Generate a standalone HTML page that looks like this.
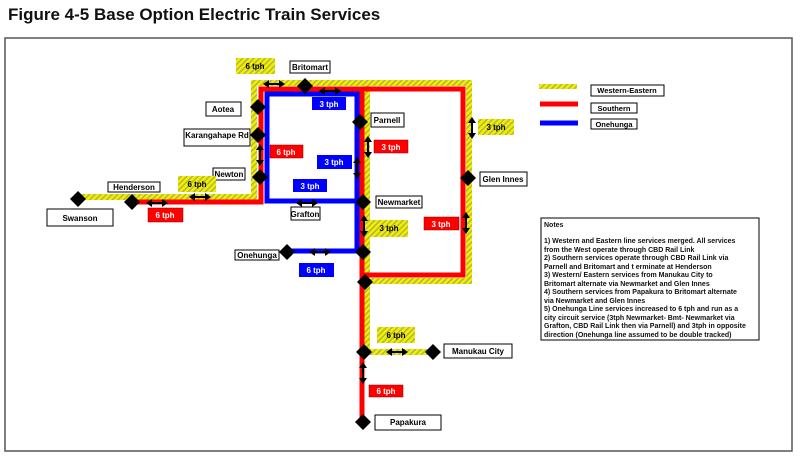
<!DOCTYPE html>
<html><head><meta charset="utf-8"><style>
body{margin:0;background:#fff;width:800px;height:458px;overflow:hidden}
svg text{font-family:"Liberation Sans",Arial,sans-serif}
</style></head><body>
<svg width="800" height="458" viewBox="0 0 800 458" xmlns="http://www.w3.org/2000/svg">
<defs>
<pattern id="h" width="4" height="4" patternUnits="userSpaceOnUse" patternTransform="rotate(45)">
<rect width="4" height="4" fill="#f0f000"/><rect width="1.5" height="4" fill="#b4b440"/>
</pattern>
<g id="dm"><polygon points="0,-8 8,0 0,8 -8,0" fill="#000"/></g>
<g id="ah"><line x1="-8" y1="0" x2="8" y2="0" stroke="#000" stroke-width="2"/><polygon points="-11,0 -5,-4 -5,4" fill="#000"/><polygon points="11,0 5,-4 5,4" fill="#000"/></g>
<g id="av"><line x1="0" y1="-8" x2="0" y2="8" stroke="#000" stroke-width="2"/><polygon points="0,-11 -4,-5 4,-5" fill="#000"/><polygon points="0,11 -4,5 4,5" fill="#000"/></g>
</defs>
<text x="8" y="20" font-size="17" font-weight="bold" fill="#111">Figure 4-5 Base Option Electric Train Services</text>
<rect x="5" y="38" width="787" height="413" fill="none" stroke="#555" stroke-width="1.5"/>

<g fill="none" stroke="url(#h)" stroke-width="6">
<polyline points="78,197 254,197 254,83 469,83 469,281 367,281"/>
<polyline points="367,83 367,352 433,352"/>
</g>
<g fill="none" stroke="#f00" stroke-width="5">
<polyline points="132,202 261,202 261,89 463,89 463,275 362,275"/>
<polyline points="362,89 362,422"/>
</g>
<g fill="none" stroke="#00f" stroke-width="5">
<polyline points="357,201 267,201 267,94 357,94 357,251 287,251"/>
</g>

<use href="#dm" x="78" y="199"/><use href="#dm" x="132" y="202"/>
<use href="#dm" x="260" y="177"/><use href="#dm" x="258" y="135"/>
<use href="#dm" x="258" y="107"/><use href="#dm" x="305" y="86"/>
<use href="#dm" x="360" y="122"/><use href="#dm" x="363" y="202"/>
<use href="#dm" x="468" y="178"/><use href="#dm" x="287" y="252"/>
<use href="#dm" x="363" y="252"/><use href="#dm" x="365" y="282"/>
<use href="#dm" x="364" y="352"/><use href="#dm" x="433" y="352"/>
<use href="#dm" x="363" y="422"/>

<use href="#ah" x="157" y="203"/><use href="#ah" x="200" y="197"/>
<use href="#ah" x="274" y="84"/><use href="#ah" x="330" y="91"/>
<use href="#ah" x="307" y="203"/><use href="#ah" x="320" y="252"/>
<use href="#ah" x="397" y="352"/>
<use href="#av" x="260" y="155"/><use href="#av" x="357" y="168"/>
<use href="#av" x="368" y="147"/><use href="#av" x="472" y="128"/>
<use href="#av" x="466" y="223"/><use href="#av" x="364" y="226"/>
<use href="#av" x="363" y="373"/>

<g font-size="8" font-weight="bold" fill="#000" text-anchor="middle">
<rect x="47" y="209" width="66" height="17" fill="#fff" stroke="#000"/><text x="80" y="221">Swanson</text>
<rect x="108" y="182" width="52" height="10" fill="#fff" stroke="#000"/><text x="134" y="190">Henderson</text>
<rect x="213" y="168" width="32" height="12" fill="#fff" stroke="#000"/><text x="229" y="177">Newton</text>
<rect x="184" y="129" width="66" height="17" fill="#fff" stroke="#000"/><text x="217" y="138">Karangahape Rd</text>
<rect x="206" y="102" width="35" height="14" fill="#fff" stroke="#000"/><text x="223" y="112">Aotea</text>
<rect x="290" y="61" width="40" height="12" fill="#fff" stroke="#000"/><text x="310" y="70">Britomart</text>
<rect x="371" y="113" width="33" height="14" fill="#fff" stroke="#000"/><text x="387" y="123">Parnell</text>
<rect x="376" y="196" width="46" height="12" fill="#fff" stroke="#000"/><text x="399" y="205">Newmarket</text>
<rect x="291" y="207" width="29" height="13" fill="#fff" stroke="#000"/><text x="305" y="217">Grafton</text>
<rect x="480" y="172" width="47" height="14" fill="#fff" stroke="#000"/><text x="503" y="182">Glen Innes</text>
<rect x="235" y="250" width="44" height="10" fill="#fff" stroke="#000"/><text x="257" y="258">Onehunga</text>
<rect x="444" y="344" width="68" height="14" fill="#fff" stroke="#000"/><text x="478" y="354">Manukau City</text>
<rect x="375" y="415" width="66" height="15" fill="#fff" stroke="#000"/><text x="408" y="425">Papakura</text>
</g>

<g font-size="8" font-weight="bold" text-anchor="middle">
<rect x="236" y="58" width="39" height="16" fill="url(#h)"/><text x="255" y="69" fill="#000">6 tph</text>
<rect x="312" y="97" width="34" height="13" fill="#00f"/><text x="329" y="107" fill="#fff">3 tph</text>
<rect x="270" y="145" width="33" height="13" fill="#f00" stroke="#800" stroke-width="0.5"/><text x="286" y="155" fill="#fff">6 tph</text>
<rect x="317" y="155" width="35" height="14" fill="#00f"/><text x="334" y="165" fill="#fff">3 tph</text>
<rect x="374" y="140" width="34" height="13" fill="#f00" stroke="#800" stroke-width="0.5"/><text x="391" y="150" fill="#fff">3 tph</text>
<rect x="293" y="179" width="34" height="13" fill="#00f"/><text x="310" y="189" fill="#fff">3 tph</text>
<rect x="478" y="119" width="36" height="16" fill="url(#h)"/><text x="496" y="130" fill="#000">3 tph</text>
<rect x="178" y="176" width="38" height="16" fill="url(#h)"/><text x="197" y="187" fill="#000">6 tph</text>
<rect x="148" y="208" width="35" height="14" fill="#f00" stroke="#800" stroke-width="0.5"/><text x="165" y="218" fill="#fff">6 tph</text>
<rect x="370" y="220" width="38" height="17" fill="url(#h)"/><text x="389" y="231" fill="#000">3 tph</text>
<rect x="424" y="217" width="35" height="13" fill="#f00" stroke="#800" stroke-width="0.5"/><text x="441" y="227" fill="#fff">3 tph</text>
<rect x="299" y="263" width="35" height="14" fill="#00f"/><text x="316" y="273" fill="#fff">6 tph</text>
<rect x="377" y="327" width="38" height="16" fill="url(#h)"/><text x="396" y="338" fill="#000">6 tph</text>
<rect x="369" y="385" width="34" height="12" fill="#f00" stroke="#800" stroke-width="0.5"/><text x="386" y="394" fill="#fff">6 tph</text>
</g>

<rect x="539" y="84" width="38" height="5" fill="url(#h)"/>
<line x1="540" y1="104" x2="578" y2="104" stroke="#f00" stroke-width="5"/>
<line x1="540" y1="123" x2="578" y2="123" stroke="#00f" stroke-width="5"/>
<g font-size="7.5" font-weight="bold" text-anchor="middle">
<rect x="591" y="85" width="73" height="11" fill="#fff" stroke="#000"/><text x="627" y="93">Western-Eastern</text>
<rect x="591" y="103" width="46" height="10" fill="#fff" stroke="#000"/><text x="614" y="111">Southern</text>
<rect x="591" y="119" width="46" height="10" fill="#fff" stroke="#000"/><text x="614" y="127">Onehunga</text>
</g>

<rect x="541" y="218" width="218" height="122" fill="#fff" stroke="#000"/>
<g font-size="7" fill="#111" font-weight="bold">
<text x="544" y="227">Notes</text>
<text x="544" y="243">1) Western and Eastern line services merged. All services</text>
<text x="544" y="252">from the West operate through CBD Rail Link</text>
<text x="544" y="260">2) Southern services operate through CBD Rail Link via</text>
<text x="544" y="269">Parnell and Britomart and t erminate at Henderson</text>
<text x="544" y="277">3)  Western/ Eastern services from Manukau City to</text>
<text x="544" y="286">Britomart alternate via Newmarket and Glen Innes</text>
<text x="544" y="294">4) Southern services from Papakura to Britomart alternate</text>
<text x="544" y="303">via Newmarket and Glen Innes</text>
<text x="544" y="311">5) Onehunga Line services increased to 6 tph and run as a</text>
<text x="544" y="320">city circuit service (3tph Newmarket- Bmt- Newmarket via</text>
<text x="544" y="328">Grafton, CBD Rail Link then via Parnell) and 3tph in opposite</text>
<text x="544" y="337">direction (Onehunga line assumed to be double tracked)</text>
</g>
</svg>
</body></html>
